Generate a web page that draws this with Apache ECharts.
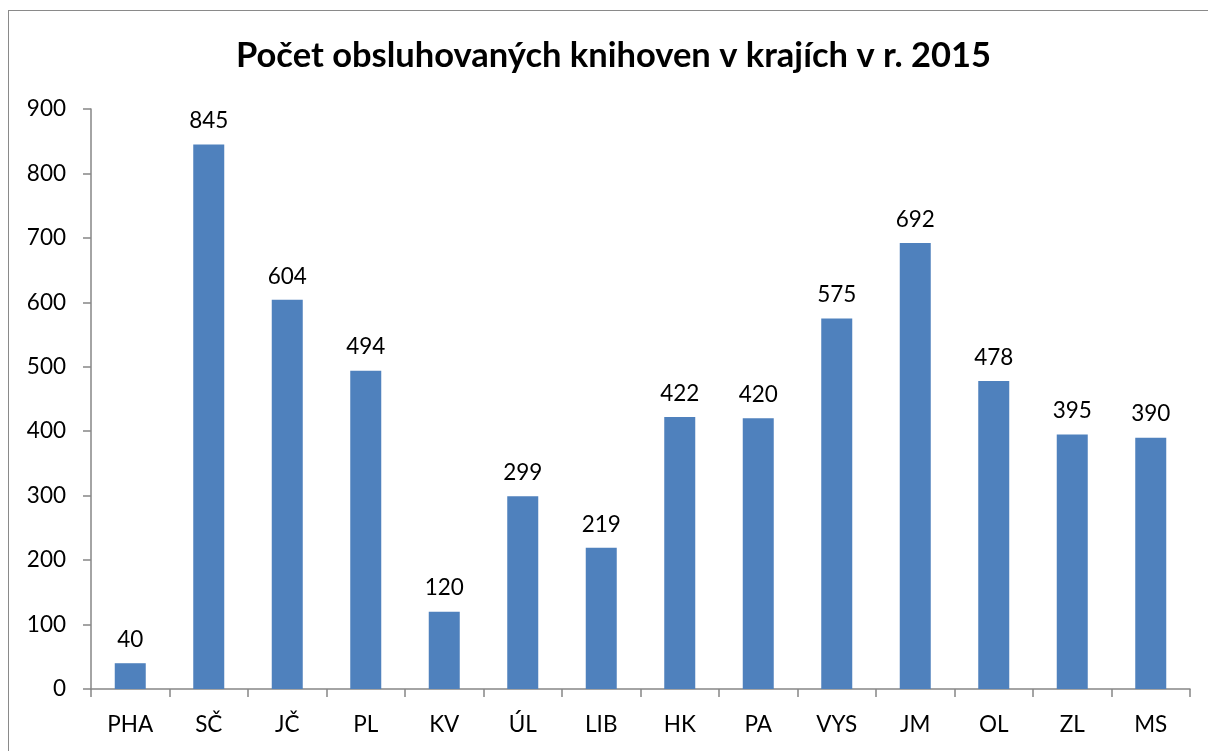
<!DOCTYPE html>
<html>
<head>
<meta charset="utf-8">
<script src="https://cdn.jsdelivr.net/npm/echarts@6/dist/echarts.min.js"></script>
<style>
  html, body { margin: 0; padding: 0; background: #fff; overflow: hidden; }
  #frame { position: absolute; left: 8px; top: 10px; width: 1400px; height: 900px; border: 1px solid #8a8a8a; }
  #main { position: absolute; left: 0; top: 0; width: 1208px; height: 751px; }
</style>
</head>
<body>
<div id="frame"></div>
<div id="main"></div>
<script>
// kraje a počty knihoven
const categories = ['PHA', 'SČ', 'JČ', 'PL', 'KV', 'ÚL', 'LIB', 'HK', 'PA', 'VYS', 'JM', 'OL', 'ZL', 'MS'];
const values = [40, 845, 604, 494, 120, 299, 219, 422, 420, 575, 692, 478, 395, 390];
const yTicks = [0, 100, 200, 300, 400, 500, 600, 700, 800, 900];

const myChart = echarts.init(document.getElementById('main'));
const font = 'Lato, "Open Sans", sans-serif';

const option = {
  backgroundColor: 'transparent',
  animation: false,
  title: {
    text: 'Počet obsluhovaných knihoven v krajích v r. 2015',
    left: 236,
    top: 38,
    padding: 0,
    textStyle: { fontFamily: font, fontWeight: 'bold', fontSize: 34.5, color: '#000' }
  },
  grid: { left: 91, right: 18, top: 109, bottom: 62 },
  xAxis: {
    type: 'category',
    data: categories,
    axisLine: { lineStyle: { color: '#868686', width: 1.5 } },
    axisTick: { show: true, length: 8, lineStyle: { color: '#868686', width: 1.5 } },
    axisLabel: { color: '#000', fontFamily: font, fontSize: 22.5, margin: 24 }
  },
  yAxis: {
    type: 'value',
    min: yTicks[0],
    max: yTicks[yTicks.length - 1],
    interval: 100,
    splitLine: { show: false },
    axisLine: { show: true, lineStyle: { color: '#868686', width: 1.5 } },
    axisTick: { show: true, length: 8, lineStyle: { color: '#868686', width: 1.5 } },
    axisLabel: { color: '#000', fontFamily: font, fontSize: 22.5, margin: 25 }
  },
  series: [
    {
      type: 'bar',
      data: values,
      barWidth: 31,
      itemStyle: { color: '#4f81bd' },
      label: {
        show: true,
        position: 'top',
        distance: 12,
        color: '#000',
        fontFamily: font,
        fontSize: 22.5
      }
    }
  ]
};
option && myChart.setOption(option);
</script>
</body>
</html>
